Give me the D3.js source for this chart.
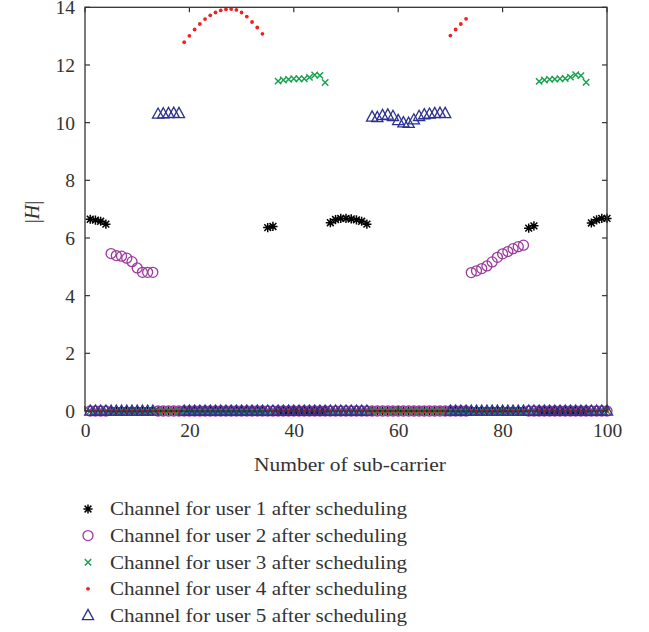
<!DOCTYPE html>
<html>
<head>
<meta charset="utf-8">
<script src="https://cdn.jsdelivr.net/npm/d3@7/dist/d3.min.js"></script>
<style>
  html, body { margin: 0; padding: 0; background: #fff; }
  svg { display: block; }
  text { font-family: "Liberation Serif", "DejaVu Serif", serif; fill: #333; }
</style>
</head>
<body>
<svg id="chart" width="649" height="632"></svg>
<script>
// ---- Data ----
const numSubcarriers = 100;
const xTicks = [0, 20, 40, 60, 80, 100];
const yTicks = [0, 2, 4, 6, 8, 10, 12, 14];

const user1Carriers = [1, 2, 3, 4, 35, 36, 47, 48, 49, 50, 51, 52, 53, 54, 85, 86, 97, 98, 99, 100];
const user1Values   = [6.65, 6.62, 6.58, 6.48, 6.36, 6.40, 6.53, 6.64, 6.68, 6.68, 6.66, 6.63, 6.58, 6.48, 6.34, 6.42, 6.52, 6.63, 6.68, 6.68];

const user2Carriers = [5, 6, 7, 8, 9, 10, 11, 12, 13, 74, 75, 76, 77, 78, 79, 80, 81, 82, 83, 84];
const user2Values   = [5.46, 5.39, 5.37, 5.30, 5.18, 4.96, 4.81, 4.81, 4.81, 4.80, 4.86, 4.94, 5.03, 5.17, 5.33, 5.45, 5.53, 5.63, 5.70, 5.75];

const user3Carriers = [37, 38, 39, 40, 41, 42, 43, 44, 45, 46, 87, 88, 89, 90, 91, 92, 93, 94, 95, 96];
const user3Values   = [11.44, 11.48, 11.50, 11.52, 11.52, 11.52, 11.57, 11.65, 11.64, 11.39, 11.43, 11.48, 11.50, 11.51, 11.52, 11.53, 11.58, 11.66, 11.63, 11.40];

const user4Carriers = [19, 20, 21, 22, 23, 24, 25, 26, 27, 28, 29, 30, 31, 32, 33, 34, 70, 71, 72, 73];
const user4Values   = [12.79, 13.01, 13.23, 13.42, 13.59, 13.72, 13.82, 13.89, 13.93, 13.94, 13.91, 13.82, 13.68, 13.49, 13.30, 13.08, 13.02, 13.23, 13.42, 13.60];

const user5Carriers = [14, 15, 16, 17, 18, 55, 56, 57, 58, 59, 60, 61, 62, 63, 64, 65, 66, 67, 68, 69];
const user5Values   = [10.30, 10.31, 10.32, 10.33, 10.32, 10.20, 10.18, 10.25, 10.27, 10.22, 10.08, 10.00, 9.98, 10.10, 10.22, 10.28, 10.30, 10.32, 10.33, 10.32];

const legendLabels = [
  "Channel for user 1 after scheduling",
  "Channel for user 2 after scheduling",
  "Channel for user 3 after scheduling",
  "Channel for user 4 after scheduling",
  "Channel for user 5 after scheduling"
];

// ---- Build full series (zero on non-assigned sub-carriers) ----
function buildSeries(carriers, values) {
  const m = new Map(carriers.map((c, i) => [c, values[i]]));
  return d3.range(1, numSubcarriers + 1).map(k => ({ x: k, y: m.has(k) ? m.get(k) : 0 }));
}
const series = [
  { key: "u1", data: buildSeries(user1Carriers, user1Values), shape: "star",     color: "#000000" },
  { key: "u2", data: buildSeries(user2Carriers, user2Values), shape: "circle",   color: "#9b3a9e" },
  { key: "u3", data: buildSeries(user3Carriers, user3Values), shape: "cross",    color: "#12a04a" },
  { key: "u4", data: buildSeries(user4Carriers, user4Values), shape: "dot",      color: "#ee2222" },
  { key: "u5", data: buildSeries(user5Carriers, user5Values), shape: "triangle", color: "#2b3190" }
];

// ---- Layout ----
const svg = d3.select("#chart");
const x = d3.scaleLinear().domain([0, 100]).range([85, 607]);
const y = d3.scaleLinear().domain([0, 14]).range([411, 7.3]);

// marker drawing
function drawMarker(g, shape, color) {
  if (shape === "star") {
    const s = 4.6, d = 3.4;
    g.append("path")
      .attr("d", `M${-s},0L${s},0M0,${-s}L0,${s}M${-d},${-d}L${d},${d}M${-d},${d}L${d},${-d}`)
      .attr("stroke", color).attr("stroke-width", 1.5).attr("fill", "none");
  } else if (shape === "circle") {
    g.append("circle").attr("r", 5).attr("fill", "none").attr("stroke", color).attr("stroke-width", 1.3);
  } else if (shape === "cross") {
    const s = 3.2;
    g.append("path")
      .attr("d", `M${-s},${-s}L${s},${s}M${-s},${s}L${s},${-s}`)
      .attr("stroke", color).attr("stroke-width", 1.4).attr("fill", "none");
  } else if (shape === "dot") {
    g.append("circle").attr("r", 1.9).attr("fill", color);
  } else if (shape === "triangle") {
    g.append("path")
      .attr("d", "M0,-6L5.6,4.2L-5.6,4.2Z")
      .attr("stroke", color).attr("stroke-width", 1.3).attr("fill", "none");
  }
}

// ---- Marks ----
const marks = svg.append("g");
series.forEach(s => {
  const gs = marks.append("g").attr("class", s.key);
  s.data.forEach(d => {
    const g = gs.append("g").attr("transform", `translate(${x(d.x)},${y(d.y)})`);
    drawMarker(g, s.shape, s.color);
  });
});

// ---- Axes (box with inward ticks) ----
const axisColor = "#333";
const tickLen = 5;
const axG = svg.append("g");
const bottomAxis = d3.axisBottom(x).tickValues(xTicks).tickSize(0).tickPadding(12);
const leftAxis = d3.axisLeft(y).tickValues(yTicks).tickSize(0).tickPadding(10);

const gb = axG.append("g").attr("transform", `translate(0,${y(0)})`).call(bottomAxis);
gb.select(".domain").remove();
gb.selectAll("text").attr("font-size", 19.5).attr("fill", "#333").attr("font-family", "Liberation Serif, serif");

const gl = axG.append("g").attr("transform", `translate(${x(0)},0)`).call(leftAxis);
gl.select(".domain").remove();
gl.selectAll("text").attr("font-size", 19.5).attr("fill", "#333").attr("font-family", "Liberation Serif, serif").attr("dy", "0.34em");

// frame
axG.append("rect")
  .attr("x", x(0)).attr("y", y(14))
  .attr("width", x(100) - x(0)).attr("height", y(0) - y(14))
  .attr("fill", "none").attr("stroke", axisColor).attr("stroke-width", 1.3);

// inward ticks on all four sides
xTicks.forEach(t => {
  axG.append("line").attr("x1", x(t)).attr("x2", x(t)).attr("y1", y(0)).attr("y2", y(0) - tickLen).attr("stroke", axisColor).attr("stroke-width", 1.2);
  axG.append("line").attr("x1", x(t)).attr("x2", x(t)).attr("y1", y(14)).attr("y2", y(14) + tickLen).attr("stroke", axisColor).attr("stroke-width", 1.2);
});
yTicks.forEach(t => {
  axG.append("line").attr("x1", x(0)).attr("x2", x(0) + tickLen).attr("y1", y(t)).attr("y2", y(t)).attr("stroke", axisColor).attr("stroke-width", 1.2);
  axG.append("line").attr("x1", x(100)).attr("x2", x(100) - tickLen).attr("y1", y(t)).attr("y2", y(t)).attr("stroke", axisColor).attr("stroke-width", 1.2);
});

// axis titles
svg.append("text")
  .attr("x", 350).attr("y", 471)
  .attr("text-anchor", "middle").attr("font-size", 19.5)
  .attr("textLength", 192).attr("lengthAdjust", "spacingAndGlyphs")
  .text("Number of sub-carrier");

const yl = svg.append("text")
  .attr("transform", `translate(39,${212}) rotate(-90)`)
  .attr("text-anchor", "middle").attr("font-size", 20);
yl.append("tspan").text("|");
yl.append("tspan").attr("font-style", "italic").text("H");
yl.append("tspan").text("|");

// ---- Legend ----
const legend = svg.append("g");
const legendY0 = 509, legendDY = 26.6;
series.forEach((s, i) => {
  const row = legend.append("g").attr("transform", `translate(88,${legendY0 + i * legendDY})`);
  drawMarker(row, s.shape, s.color);
  row.append("text").attr("x", 22).attr("y", 0).attr("dy", "0.33em")
    .attr("font-size", 19.5)
    .attr("textLength", 297).attr("lengthAdjust", "spacingAndGlyphs")
    .text(legendLabels[i]);
});
</script>
</body>
</html>
